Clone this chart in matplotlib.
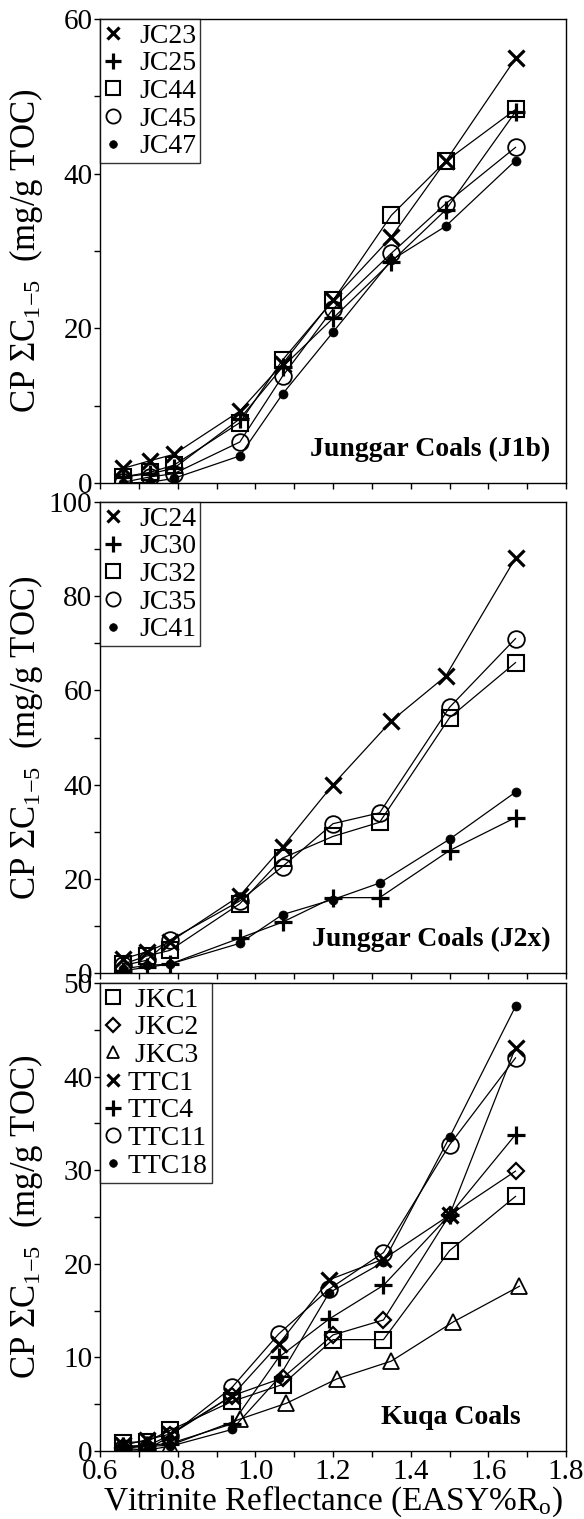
import matplotlib
matplotlib.use('Agg')
import matplotlib.pyplot as plt
from matplotlib.ticker import MultipleLocator

plt.rcParams['font.family'] = ['Liberation Serif', 'DejaVu Serif']
plt.rcParams['mathtext.fontset'] = 'custom'
plt.rcParams['mathtext.rm'] = 'Liberation Serif'
plt.rcParams['mathtext.it'] = 'Liberation Serif:italic'

# ---- Junggar Coals (J1b) ----
x_j1b = [0.66, 0.73, 0.79, 0.96, 1.07, 1.20, 1.35, 1.49, 1.67]
jc23 = [1.9, 2.9, 3.7, 9.3, 15.4, 23.7, 31.8, 41.6, 54.9]
jc25 = [0.8, 1.2, 1.9, 8.3, 15.0, 21.3, 28.6, 35.3, 48.0]
jc44 = [0.8, 1.4, 2.3, 7.8, 15.9, 23.6, 34.6, 41.6, 48.3]
jc45 = [0.1, 0.8, 1.2, 5.3, 13.8, 22.5, 29.7, 36.1, 43.4]
jc47 = [0.0, 0.1, 0.6, 3.5, 11.5, 19.5, 28.8, 33.2, 41.7]

# ---- Junggar Coals (J2x) ----
x_j2x = [0.66, 0.72, 0.78, 0.96, 1.07, 1.20, 1.32, 1.50, 1.67]
x_jc24 = [0.66, 0.72, 0.78, 0.96, 1.07, 1.20, 1.35, 1.49, 1.67]
jc24 = [3.0, 4.5, 6.6, 16.4, 26.8, 40.0, 53.5, 63.0, 88.1]
jc30 = [0.5, 1.2, 1.9, 7.4, 10.8, 16.0, 16.0, 26.0, 33.0]
jc32 = [1.9, 3.6, 4.8, 14.7, 24.4, 29.0, 32.0, 54.2, 65.9]
jc35 = [1.6, 2.7, 7.0, 15.3, 22.6, 31.7, 34.0, 56.4, 71.0]
jc41 = [0.9, 1.6, 1.9, 6.3, 12.4, 15.6, 19.1, 28.4, 38.4]

# ---- Kuqa Coals ----
x_kuqa = [0.66, 0.72, 0.78, 0.94, 1.06, 1.19, 1.33, 1.50, 1.67]
x_jkc12 = [0.66, 0.72, 0.78, 0.94, 1.07, 1.20, 1.33, 1.50, 1.67]
x_jkc3 = [0.66, 0.72, 0.78, 0.96, 1.08, 1.21, 1.35, 1.51, 1.68]
jkc1 = [0.9, 1.0, 2.2, 5.3, 7.1, 11.9, 11.9, 21.4, 27.2]
jkc2 = [0.3, 0.5, 1.7, 5.9, 7.8, 12.4, 14.0, 25.2, 29.9]
jkc3 = [0.5, 0.5, 0.6, 3.4, 5.1, 7.7, 9.6, 13.8, 17.6]
ttc1 = [0.6, 1.2, 1.8, 5.9, 11.4, 18.3, 20.5, 25.2, 43.1]
ttc4 = [0.5, 0.6, 0.8, 2.9, 10.0, 14.1, 17.7, 25.2, 33.8]
ttc11 = [0.3, 0.1, 1.6, 6.8, 12.5, 17.3, 21.2, 32.7, 42.0]
ttc18 = [0.1, 0.1, 0.5, 2.3, 7.8, 16.9, 20.2, 33.5, 47.5]

styles = {
    'x': dict(marker='x', ms=11, mew=2.3),
    '+': dict(marker='+', ms=13, mew=2.3),
    's': dict(marker='s', ms=12, mew=1.5, mfc='none'),
    'o': dict(marker='o', ms=12, mew=1.3, mfc='none'),
    'D': dict(marker='D', ms=8.5, mew=1.6, mfc='none'),
    '^': dict(marker='^', ms=11, mew=1.3, mfc='none'),
    '.': dict(marker='o', ms=6.5, mew=0.5),
}

L, W = 100 / 584, 466 / 584
panels = [
    dict(series=[('JC23', x_j1b, jc23, 'x'), ('JC25', x_j1b, jc25, '+'),
                 ('JC44', x_j1b, jc44, 's'), ('JC45', x_j1b, jc45, 'o'),
                 ('JC47', x_j1b, jc47, '.')],
         ylim=60, major=20, minor=10, title='Junggar Coals (J1b)', tx=0.966,
         pos=[L, 1 - 483 / 1519, W, 464 / 1519], textpad=0.65),
    dict(series=[('JC24', x_jc24, jc24, 'x'), ('JC30', x_j2x, jc30, '+'),
                 ('JC32', x_j2x, jc32, 's'), ('JC35', x_j2x, jc35, 'o'),
                 ('JC41', x_j2x, jc41, '.')],
         ylim=100, major=20, minor=10, title='Junggar Coals (J2x)', tx=0.966,
         pos=[L, 1 - 973 / 1519, W, 471 / 1519], textpad=0.65),
    dict(series=[(' JKC1', x_jkc12, jkc1, 's'), (' JKC2', x_jkc12, jkc2, 'D'),
                 (' JKC3', x_jkc3, jkc3, '^'), ('TTC1', x_kuqa, ttc1, 'x'),
                 ('TTC4', x_kuqa, ttc4, '+'), ('TTC11', x_kuqa, ttc11, 'o'),
                 ('TTC18', x_kuqa, ttc18, '.')],
         ylim=50, major=10, minor=5, title='Kuqa Coals', tx=0.903,
         pos=[L, 1 - 1451 / 1519, W, 468 / 1519], textpad=0.25),
]

fig = plt.figure(figsize=(5.84, 15.19), dpi=100)

for i, p in enumerate(panels):
    ax = fig.add_axes(p['pos'])
    for name, xs, ys, m in p['series']:
        ax.plot(xs, ys, color='black', lw=0.9, mec='black', label=name, **styles[m])
    ax.set_xlim(0.6, 1.8)
    ax.set_ylim(0, p['ylim'])
    ax.xaxis.set_major_locator(MultipleLocator(0.2))
    ax.xaxis.set_minor_locator(MultipleLocator(0.1))
    ax.yaxis.set_major_locator(MultipleLocator(p['major']))
    ax.yaxis.set_minor_locator(MultipleLocator(p['minor']))
    ax.tick_params(which='both', direction='out', length=4.5, width=1, pad=1)
    ax.tick_params(axis='y', labelsize=21)
    ax.tick_params(axis='x', labelsize=21)
    for s in ax.spines.values():
        s.set_linewidth(1)
    ax.set_ylabel(r'CP ΣC$_{1\mathrm{-}5}$  (mg/g TOC)', fontsize=25)
    ax.yaxis.set_label_coords(-0.118, 0.5)
    if i < 2:
        ax.tick_params(axis='x', labelbottom=False)
    else:
        ax.xaxis.set_major_formatter(plt.FuncFormatter(lambda v, _: f'{v:.1f}'))
        ax.set_xlabel(r'Vitrinite Reflectance (EASY%R$_\mathrm{o}$)', fontsize=24, labelpad=-1)
    ax.text(p['tx'], 0.072, p['title'], transform=ax.transAxes, ha='right', va='center',
            fontsize=20, fontweight='bold')
    leg = ax.legend(loc='upper left', fontsize=20, frameon=True, fancybox=False,
                    edgecolor='black', borderaxespad=0, borderpad=0.15,
                    handlelength=0.6, handletextpad=p['textpad'], labelspacing=0.08,
                    markerscale=0.85)
    leg.get_frame().set_linewidth(1)
    for line in leg.get_lines():
        line.set_linestyle('none')

fig.savefig('out.png', dpi=100)
